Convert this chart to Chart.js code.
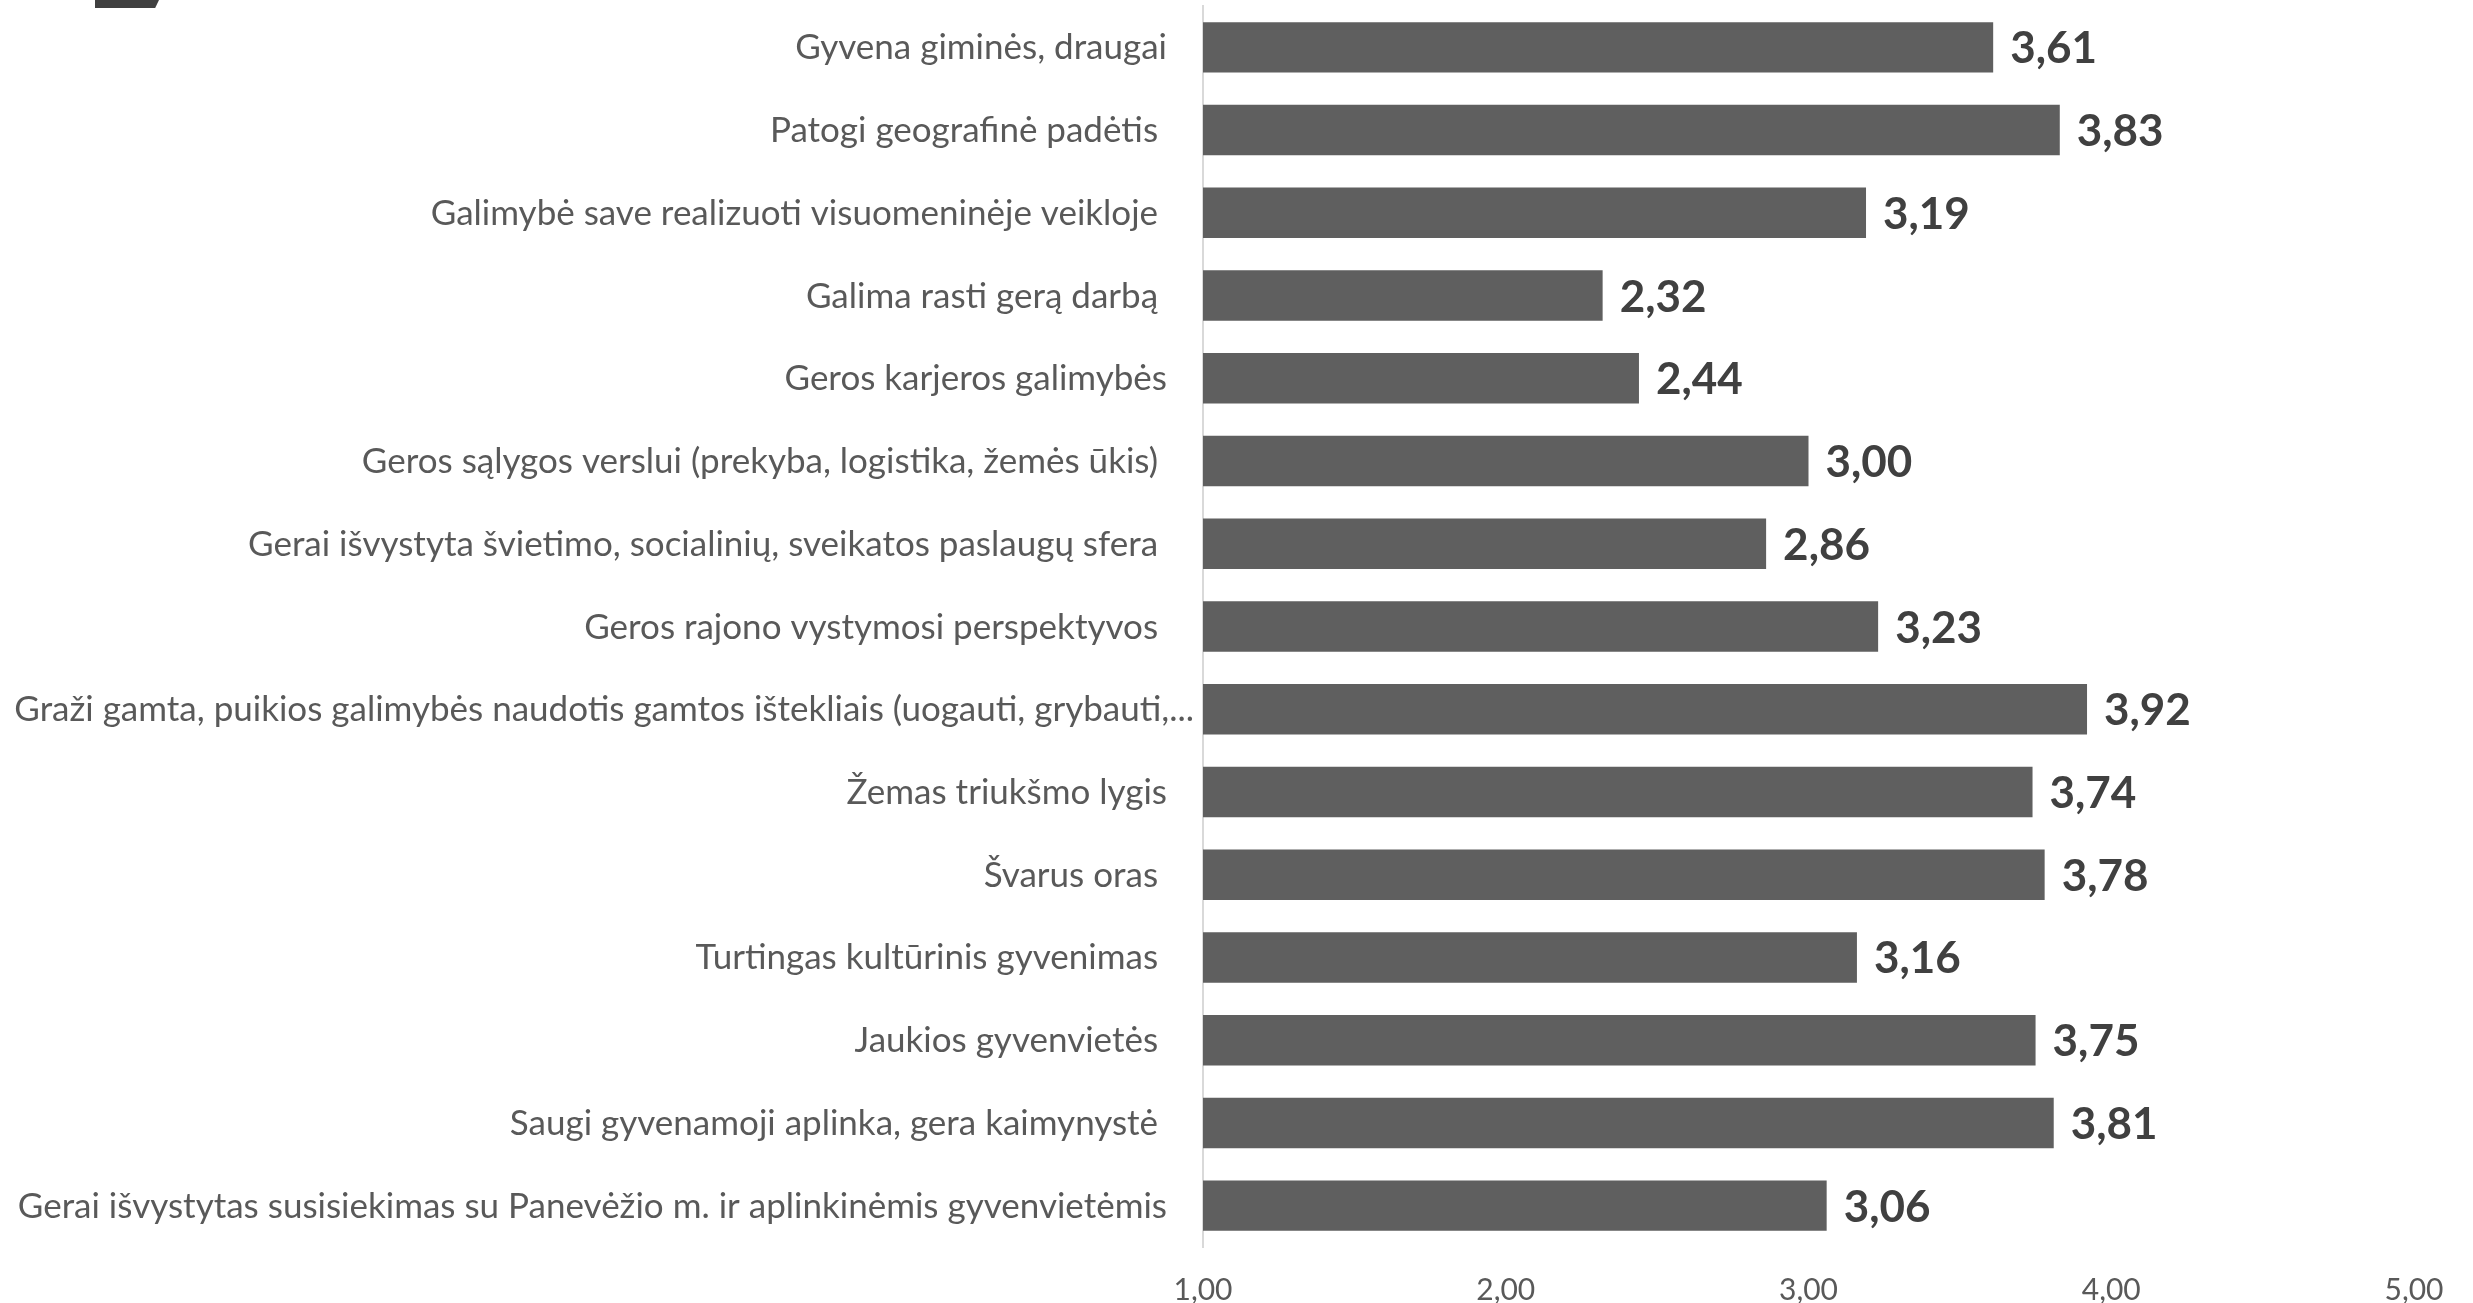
<!DOCTYPE html>
<html>
<head>
<meta charset="utf-8">
<script src="https://cdn.jsdelivr.net/npm/chart.js@4/dist/chart.umd.min.js"></script>
<style>
  html, body { margin: 0; padding: 0; background: #fff; }
  #wrap { position: relative; width: 2473px; height: 1303px; }
  #corner {
    position: absolute; left: 95px; top: 0; width: 64px; height: 8px;
    background: #404040; clip-path: polygon(0 0, 100% 0, 94% 100%, 0 100%);
  }
</style>
</head>
<body>
<div id="wrap">
  <canvas id="ratingChart" width="2473" height="1303"></canvas>
  <div id="corner"></div>
</div>
<script>
const categories = [
    'Gyvena giminės, draugai',
    'Patogi geografinė padėtis ',
    'Galimybė save realizuoti visuomeninėje veikloje ',
    'Galima rasti gerą darbą ',
    'Geros karjeros galimybės',
    'Geros sąlygos verslui (prekyba, logistika, žemės ūkis) ',
    'Gerai išvystyta švietimo, socialinių, sveikatos paslaugų sfera ',
    'Geros rajono vystymosi perspektyvos ',
    'Graži gamta, puikios galimybės naudotis gamtos ištekliais (uogauti, grybauti,...',
    'Žemas triukšmo lygis',
    'Švarus oras ',
    'Turtingas kultūrinis gyvenimas ',
    'Jaukios gyvenvietės ',
    'Saugi gyvenamoji aplinka, gera kaimynystė ',
    'Gerai išvystytas susisiekimas su Panevėžio m. ir aplinkinėmis gyvenvietėmis'
];
const scores = [3.61, 3.83, 3.19, 2.32, 2.44, 3.00, 2.86, 3.23, 3.92, 3.74, 3.78, 3.16, 3.75, 3.81, 3.06];
const axisTicks = [1, 2, 3, 4, 5];

const FONT = "Lato, 'Open Sans', sans-serif";

function fmt(v) {
    return v.toFixed(2).replace('.', ',');
}

// category names on the left, right-aligned to the axis;
// a name too long for the space gets a smaller gap and is squeezed in
const categoryLabels = {
    id: 'categoryLabels',
    afterDraw(chart) {
        const ctx = chart.ctx;
        const yScale = chart.scales.y;
        const axisX = chart.chartArea.left;
        const leftEdge = 13;
        ctx.save();
        ctx.font = '35px ' + FONT;
        ctx.fillStyle = '#595959';
        ctx.textAlign = 'right';
        ctx.textBaseline = 'alphabetic';
        categories.forEach((name, i) => {
            const y = yScale.getPixelForValue(i) + 12;
            const w = ctx.measureText(name).width;
            if (w <= axisX - 36 - leftEdge) {
                ctx.fillText(name, axisX - 36, y);
            } else {
                ctx.fillText(name, axisX - 9, y, axisX - 9 - leftEdge);
            }
        });
        ctx.restore();
    }
};

// bold numbers at the end of each bar
const valueLabels = {
    id: 'valueLabels',
    afterDatasetsDraw(chart) {
        const ctx = chart.ctx;
        const meta = chart.getDatasetMeta(0);
        ctx.save();
        ctx.font = 'bold 44px ' + FONT;
        ctx.fillStyle = '#404040';
        ctx.textAlign = 'left';
        ctx.textBaseline = 'alphabetic';
        meta.data.forEach((bar, i) => {
            ctx.fillText(fmt(scores[i]), bar.x + 17, bar.y + 16);
        });
        ctx.restore();
    }
};

function createChart() {
    const ctx = document.getElementById('ratingChart').getContext('2d');
    new Chart(ctx, {
        type: 'bar',
        data: {
            labels: categories,
            datasets: [{
                data: scores,
                backgroundColor: '#5f5f5f',
                borderWidth: 0,
                barPercentage: 0.61,
                categoryPercentage: 1
            }]
        },
        options: {
            indexAxis: 'y',
            responsive: false,
            animation: false,
            layout: { padding: { top: 6, right: 59, left: 0, bottom: 0 } },
            scales: {
                x: {
                    min: 1,
                    max: 5,
                    afterBuildTicks(scale) {
                        scale.ticks = axisTicks.map(v => ({ value: v }));
                    },
                    afterFit(scale) { scale.height = 56; },
                    grid: { display: false, drawTicks: false },
                    border: { display: false },
                    ticks: {
                        padding: 25,
                        color: '#595959',
                        font: { family: FONT, size: 30 },
                        callback: v => fmt(v)
                    }
                },
                y: {
                    afterFit(scale) {
                        scale.width = 1203;
                        scale.paddingTop = 0;
                        scale.paddingBottom = 0;
                    },
                    grid: { display: false, drawTicks: false },
                    border: { display: true, color: '#d9d9d9', width: 2 },
                    ticks: { display: false }
                }
            },
            plugins: {
                legend: { display: false },
                tooltip: { enabled: false }
            }
        },
        plugins: [categoryLabels, valueLabels]
    });
}

window.onload = createChart;
</script>
</body>
</html>
